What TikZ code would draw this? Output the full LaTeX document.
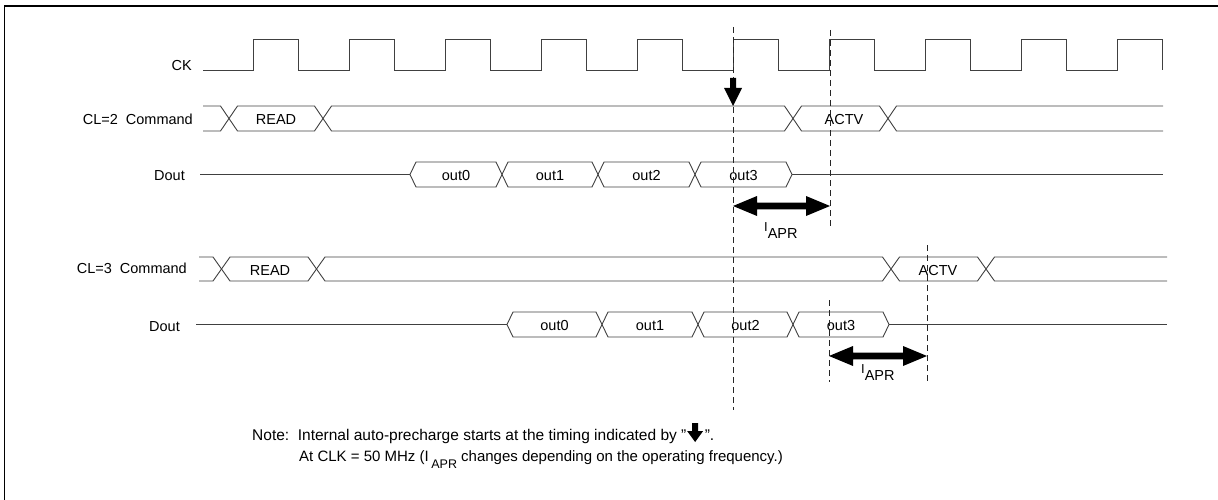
\documentclass[tikz,border=0pt]{standalone}
\usepackage{fontspec}
\setmainfont{Liberation Sans}
\usetikzlibrary{calc}
\newcommand\lblfont{\fontsize{14.5}{17}\selectfont}
\newcommand\notefont{\fontsize{15.5}{18}\selectfont}
\newcommand\Iapr{{\fontsize{13}{15}\selectfont I}\raisebox{-7pt}{APR}}
% bus segment helpers: x1, x2, top, bottom, half-width of crossing
\newcommand\wvHex[5]{\draw[wave] (#1,{(#3+#4)/2}) -- ({#1+#5},#3) -- ({#2-#5},#3) -- (#2,{(#3+#4)/2}) -- ({#2-#5},#4) -- ({#1+#5},#4) -- cycle;}
\newcommand\wvStart[5]{\draw[wave] (#1,#3) -- ({#2-#5},#3) -- (#2,{(#3+#4)/2}) -- ({#2-#5},#4) -- (#1,#4);}
\newcommand\wvEnd[5]{\draw[wave] (#2,#3) -- ({#1+#5},#3) -- (#1,{(#3+#4)/2}) -- ({#1+#5},#4) -- (#2,#4);}
\newcommand\dblArrow[2]{\fill[solidarrow] (#1) -- ($(#1)+(24,-10)$) -- ($(#1)+(24,-3.3)$) -- ($(#2)+(-24,-3.3)$) -- ($(#2)+(-24,-10)$) -- (#2) -- ($(#2)+(-24,10)$) -- ($(#2)+(-24,3.3)$) -- ($(#1)+(24,3.3)$) -- ($(#1)+(24,10)$) -- cycle;}
\begin{document}
\begin{tikzpicture}[x=1pt,y=-1pt,
  wave/.style={line width=0.9pt, draw=black!75, line join=miter},
  guide/.style={line width=0.8pt, draw=black!85, dash pattern=on 6pt off 4pt},
  frame/.style={line width=1.4pt, draw=black},
  lbl/.style={inner sep=0pt, font=\lblfont},
  notetxt/.style={inner sep=0pt, font=\notefont},
  solidarrow/.style={fill=black},
]
\useasboundingbox (0,0) rectangle (1218,500);
% frame (cut off on the right and bottom)
\draw[frame] (4.5,500) -- (4.5,6) -- (1218,6);

% ---- labels
\node[lbl, anchor=base east] (lck)   at (192,70.5) {CK};
\node[lbl, anchor=base east] (lcl2)  at (193,125) {CL=2\ \ Command};
\node[lbl, anchor=base east] (ldo1)  at (185,180) {Dout};
\node[lbl, anchor=base east] (lcl3)  at (187,273) {CL=3\ \ Command};
\node[lbl, anchor=base east] (ldo2)  at (180,331.5) {Dout};

% ---- clock
\draw[wave] (203,70) foreach \r in {253,349,...,1117} { -- (\r,70) -- (\r,39) -- ({\r+45.5},39) -- ({\r+45.5},70) };

% ---- CL=2 command (top 106, bottom 131)
\wvStart{203}{229}{106}{131}{8.5}
\wvHex{229}{323}{106}{131}{8.5}
\wvHex{323}{793}{106}{131}{8.5}
\wvHex{793}{888}{106}{131}{8.5}
\wvEnd{888}{1163}{106}{131}{8.5}
\node[lbl, anchor=base] (read1) at (276,125) {READ};
\node[lbl, anchor=base] (actv1) at (844,125) {ACTV};

% ---- CL=2 Dout (top 162, bottom 187)
\draw[wave] (200,174.5) -- (410,174.5);
\wvHex{410}{502}{162}{187}{6}
\wvHex{502}{598}{162}{187}{6}
\wvHex{598}{695}{162}{187}{6}
\wvHex{695}{792}{162}{187}{6}
\draw[wave] (792,174.5) -- (1163,174.5);
\node[lbl, anchor=base] (o10) at (456,180) {out0};
\node[lbl, anchor=base] (o11) at (550,180) {out1};
\node[lbl, anchor=base] (o12) at (646.5,180) {out2};
\node[lbl, anchor=base] (o13) at (743.5,180) {out3};

% ---- CL=3 command (top 257, bottom 281)
\wvStart{199}{221.5}{257}{281}{8.5}
\wvHex{221.5}{316.5}{257}{281}{8.5}
\wvHex{316.5}{891}{257}{281}{8.5}
\wvHex{891}{986}{257}{281}{8.5}
\wvEnd{986}{1167}{257}{281}{8.5}
\node[lbl, anchor=base] (read2) at (270,275.5) {READ};
\node[lbl, anchor=base] (actv2) at (938,275.5) {ACTV};

% ---- CL=3 Dout (top 312, bottom 337)
\draw[wave] (196,324.5) -- (507,324.5);
\wvHex{507}{602}{312}{337}{6}
\wvHex{602}{698}{312}{337}{6}
\wvHex{698}{793}{312}{337}{6}
\wvHex{793}{889}{312}{337}{6}
\draw[wave] (889,324.5) -- (1167,324.5);
\node[lbl, anchor=base] (o20) at (554.5,330) {out0};
\node[lbl, anchor=base] (o21) at (650,330) {out1};
\node[lbl, anchor=base] (o22) at (745.5,330) {out2};
\node[lbl, anchor=base] (o23) at (841,330) {out3};

% ---- dashed timing guides
\coordinate (g1t) at (733,27);  \coordinate (g1b) at (733,410);
\coordinate (g2t) at (830,30);  \coordinate (g2b) at (830,226);
\coordinate (g3t) at (829,300); \coordinate (g3b) at (829,382);
\coordinate (g4t) at (927,245); \coordinate (g4b) at (927,382);
\draw[guide] (g1t) -- (g1b);
\draw[guide] (g2t) -- (g2b);
\draw[guide] (g3t) -- (g3b);
\draw[guide] (g4t) -- (g4b);

% ---- auto-precharge start arrow
\coordinate (pa) at (733,78);
\coordinate (pb) at (733,106);
\fill[solidarrow] ($(pa)+(-3,0)$) -- ($(pa)+(3,0)$) -- ($(pb)+(3,-18)$) -- ($(pb)+(9,-18)$) -- (pb) -- ($(pb)+(-9,-18)$) -- ($(pb)+(-3,-18)$) -- cycle;

% ---- tAPR double arrows
\coordinate (a1l) at (733,206); \coordinate (a1r) at (830,206);
\coordinate (a2l) at (829,356); \coordinate (a2r) at (927,356);
\dblArrow{a1l}{a1r}
\dblArrow{a2l}{a2r}
\node[lbl, anchor=base west] (ia1) at (764,231) {\Iapr};
\node[lbl, anchor=base west] (ia2) at (861,373) {\Iapr};

% ---- note
\node[notetxt, anchor=base west] (n1) at (252,440) {Note:\ \ Internal auto-precharge starts at the timing indicated by "};
\coordinate (nt) at ($(n1.base east)+(8.5,2)$);
\fill[solidarrow] ($(nt)+(-3,-19)$) -- ($(nt)+(3,-19)$) -- ($(nt)+(3,-11)$) -- ($(nt)+(8,-11)$) -- (nt) -- ($(nt)+(-8,-11)$) -- ($(nt)+(-3,-11)$) -- cycle;
\node[notetxt, anchor=base west] (n1b) at ($(n1.base east)+(18,0)$) {".};
\node[notetxt, anchor=base west, font=\fontsize{15}{18}\selectfont] (n2) at (299,461) {At CLK = 50 MHz (I\,\raisebox{-7pt}{\fontsize{12.5}{14}\selectfont APR} changes depending on the operating frequency.)};
\end{tikzpicture}
\end{document}
